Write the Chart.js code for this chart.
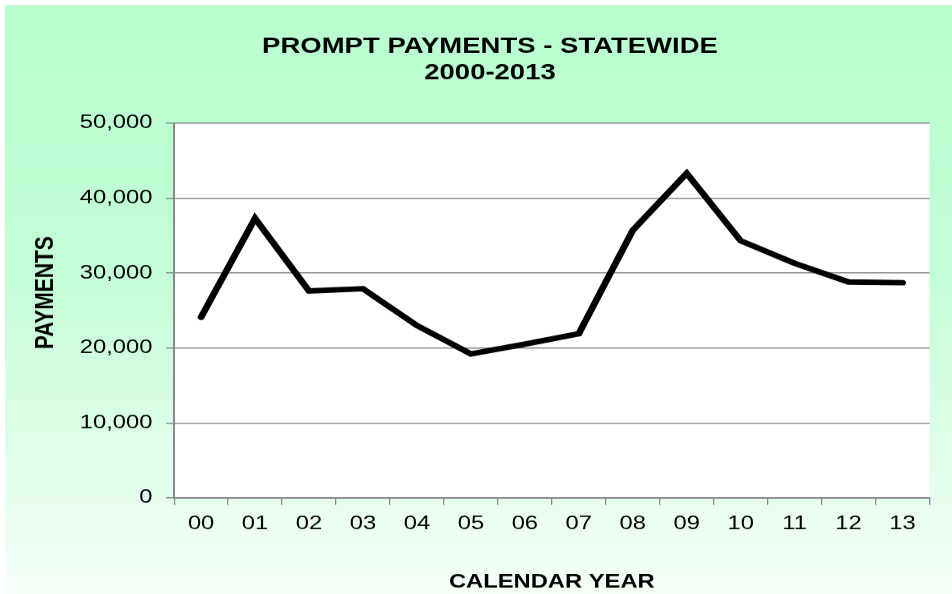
<!DOCTYPE html>
<html>
<head>
<meta charset="utf-8">
<script src="https://cdn.jsdelivr.net/npm/chart.js@4/dist/chart.umd.min.js"></script>
<style>
  html, body { margin: 0; padding: 0; background: #fff; overflow: hidden; }
  /* the chart is laid out on a narrower canvas and widened to the full page */
  #wrap { position: absolute; left: 0; top: 0; width: 762px; height: 594px;
          transform: scaleX(1.2493); transform-origin: 0 0; }
  canvas { display: block; }
</style>
</head>
<body>
<div id="wrap"><canvas id="c" width="762" height="594" style="width:762px;height:594px"></canvas></div>
<script>
// Calendar years (two-digit) and prompt payments per year, statewide
const years = ['00', '01', '02', '03', '04', '05', '06', '07', '08', '09', '10', '11', '12', '13'];
const payments = [24100, 37300, 27600, 27900, 23000, 19200, 20500, 21900, 35700, 43300, 34300, 31300, 28800, 28700];
const yTickValues = [0, 10000, 20000, 30000, 40000, 50000];

const chartTitle = ['PROMPT PAYMENTS - STATEWIDE', '2000-2013'];
const xTitle = 'CALENDAR YEAR';
const yTitle = 'PAYMENTS';

const W = 762, H = 594;
const PLOT_LEFT = 139.3, PLOT_RIGHT = 743.6, PLOT_TOP = 123, PLOT_BOTTOM = 497.5;
const FONT = '"Liberation Sans", Arial, Helvetica, sans-serif';

// green-to-white page fill and white plot area
const backdrop = {
  id: 'backdrop',
  beforeDraw(chart) {
    const { ctx, chartArea: a } = chart;
    ctx.save();
    ctx.fillStyle = '#ffffff';
    ctx.fillRect(0, 0, W, H);
    const g = ctx.createLinearGradient(0, 5, 0, H);
    g.addColorStop(0, '#b8fdcf');
    g.addColorStop(0.45, '#c3fdd6');
    g.addColorStop(1, '#f6fff9');
    ctx.fillStyle = g;
    ctx.fillRect(4, 5, W - 4, H - 5);
    ctx.fillStyle = '#ffffff';
    ctx.fillRect(a.left, a.top, a.right - a.left, a.bottom - a.top);
    ctx.restore();
  }
};

// chart title and axis titles
const titles = {
  id: 'titles',
  afterDraw(chart) {
    const { ctx, chartArea: a } = chart;
    ctx.save();
    ctx.fillStyle = '#000';
    ctx.textAlign = 'center';
    ctx.textBaseline = 'alphabetic';
    ctx.font = 'bold 22px ' + FONT;
    ctx.fillText(chartTitle[0], 392, 52.5);
    ctx.fillText(chartTitle[1], 392, 79.5);
    ctx.font = 'bold 19px ' + FONT;
    ctx.fillText(xTitle, (a.left + a.right) / 2, 587.5);
    ctx.font = 'bold 21px ' + FONT;
    ctx.translate(42.6, 292.5);
    ctx.rotate(-Math.PI / 2);
    ctx.fillText(yTitle, 0, 0);
    ctx.restore();
  }
};

new Chart(document.getElementById('c'), {
  type: 'line',
  data: {
    labels: years,
    datasets: [{
      data: payments,
      borderColor: '#000',
      borderWidth: 5.5,
      pointRadius: 0,
      tension: 0,
      borderJoinStyle: 'miter',
      borderCapStyle: 'round',
      fill: false
    }]
  },
  options: {
    responsive: false,
    devicePixelRatio: 1.25,
    animation: false,
    layout: { padding: { top: PLOT_TOP, left: 0, right: W - PLOT_RIGHT, bottom: 0 } },
    plugins: { legend: { display: false }, tooltip: { enabled: false }, title: { display: false } },
    scales: {
      x: {
        type: 'category',
        offset: true,
        grid: { offset: true, drawOnChartArea: false, drawTicks: true, tickLength: 7, color: '#888', lineWidth: 1 },
        border: { color: '#888', width: 1.5 },
        ticks: { color: '#000', font: { family: FONT, size: 19 }, padding: 8, maxRotation: 0, autoSkip: false },
        afterFit(s) { s.height = H - PLOT_BOTTOM; }
      },
      y: {
        min: 0,
        max: 50000,
        afterBuildTicks(s) { s.ticks = yTickValues.map(v => ({ value: v })); },
        grid: { color: '#888', lineWidth: 1.2, tickLength: 6.4 },
        border: { color: '#888', width: 1.6 },
        ticks: { color: '#000', font: { family: FONT, size: 19 }, padding: 11,
                 callback: v => Number(v).toLocaleString('en-US') },
        afterFit(s) { s.width = PLOT_LEFT; }
      }
    }
  },
  plugins: [backdrop, titles]
});
</script>
</body>
</html>
